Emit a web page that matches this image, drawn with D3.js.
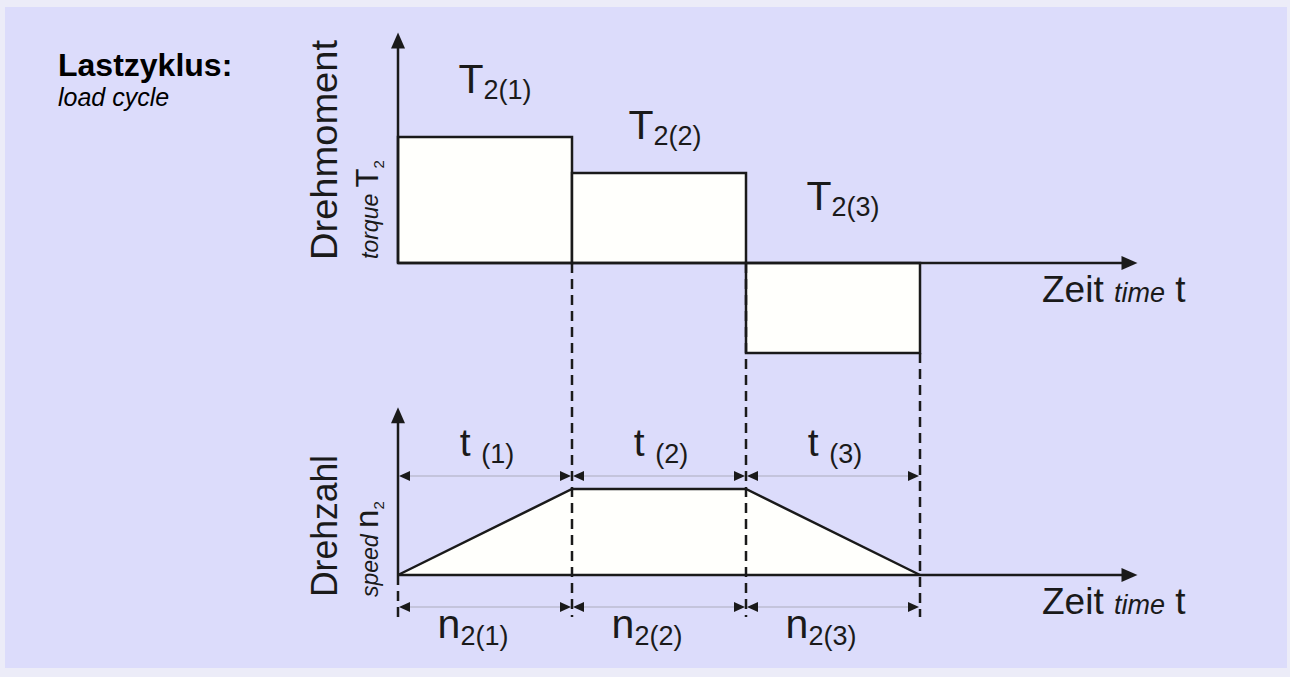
<!DOCTYPE html>
<html>
<head>
<meta charset="utf-8">
<script src="https://cdn.jsdelivr.net/npm/d3@7"></script>
<style>
    body { margin: 0; background: #ececf8; }
    svg { display: block; }
</style>
</head>
<body>
<div id="chart"></div>
<script>
// Load cycle data: three time sections
const sections = ["(1)", "(2)", "(3)"];
const timeEdges = [0, 1, 2, 3];          // section borders on the time axis
const torque = [1.4, 1.0, -1.0];         // T2 per section
const speedTimes = [0, 1, 2, 3];         // speed profile corner points
const speedValues = [0, 1, 1, 0];

const width = 1290, height = 677;
const ink = "#1a1a1a";
const font = "'Liberation Sans', Arial, sans-serif";

var svg = d3.select("#chart").append("svg")
    .attr("width", width)
    .attr("height", height);

// Background with a light frame
svg.append("rect")
    .attr("width", width).attr("height", height)
    .attr("fill", "#ececf8");
svg.append("rect")
    .attr("x", 5).attr("y", 7)
    .attr("width", 1282).attr("height", 661)
    .attr("fill", "#dcdcfb");

// Scales
var x = d3.scaleLinear().domain([0, 3]).range([398, 920]);
var yT = d3.scaleLinear().domain([-1, 1.4]).range([353, 137]);
var yN = d3.scaleLinear().domain([0, 1]).range([575, 489]);

const xAxisEnd = 4.25;     // where time arrows end
const yTAxisEnd = 2.56;    // torque arrow top
const yNAxisEnd = 1.95;    // speed arrow top
const dimT = 476, dimN = 607;   // y of dimension lines

/**
 * Triangle path with its tip at (tx, ty)
 */
function arrowHead(tx, ty, dir, len, half) {
    var p = d3.path();
    if (dir == "up") {
        p.moveTo(tx, ty); p.lineTo(tx - half, ty + len); p.lineTo(tx + half, ty + len);
    } else if (dir == "right") {
        p.moveTo(tx, ty); p.lineTo(tx - len, ty - half); p.lineTo(tx - len, ty + half);
    } else {
        p.moveTo(tx, ty); p.lineTo(tx + len, ty - half); p.lineTo(tx + len, ty + half);
    }
    p.closePath();
    return p.toString();
}

// ---- Torque bars ----
var bars = svg.append("g");
bars.selectAll("rect")
    .data(torque)
    .enter().append("rect")
    .attr("x", (d, i) => x(timeEdges[i]))
    .attr("width", (d, i) => x(timeEdges[i + 1]) - x(timeEdges[i]))
    .attr("y", d => Math.min(yT(d), yT(0)))
    .attr("height", d => Math.abs(yT(d) - yT(0)))
    .attr("fill", "#fffffc")
    .attr("stroke", ink)
    .attr("stroke-width", 2.5);

// ---- Speed profile ----
var area = d3.area()
    .x((d, i) => x(speedTimes[i]))
    .y0(yN(0))
    .y1(d => yN(d));
svg.append("path")
    .datum(speedValues)
    .attr("d", area)
    .attr("fill", "#fffffc");
svg.append("path")
    .datum(speedValues)
    .attr("d", d3.line().x((d, i) => x(speedTimes[i])).y(d => yN(d)))
    .attr("fill", "none")
    .attr("stroke", ink)
    .attr("stroke-width", 2.5);

// ---- Dashed section borders ----
var dashes = [
    { t: 0, y1: yN(0), y2: dimN + 10 },
    { t: 1, y1: yT(0), y2: dimN + 10 },
    { t: 2, y1: yT(0), y2: dimN + 10 },
    { t: 3, y1: yT(-1), y2: dimN + 10 }
];
svg.append("g").selectAll("line")
    .data(dashes)
    .enter().append("line")
    .attr("x1", d => x(d.t)).attr("x2", d => x(d.t))
    .attr("y1", d => d.y1).attr("y2", d => d.y2)
    .attr("stroke", ink)
    .attr("stroke-width", 2.5)
    .attr("stroke-dasharray", "10,6");

// ---- Axes ----
var axes = svg.append("g");
axes.append("line")
    .attr("x1", x(0)).attr("x2", x(0))
    .attr("y1", yT(0)).attr("y2", yT(yTAxisEnd) + 10)
    .attr("stroke", ink).attr("stroke-width", 2.5);
axes.append("path").attr("d", arrowHead(x(0), yT(yTAxisEnd), "up", 16, 7)).attr("fill", ink);
axes.append("line")
    .attr("x1", x(0)).attr("x2", x(xAxisEnd) - 10)
    .attr("y1", yT(0)).attr("y2", yT(0))
    .attr("stroke", ink).attr("stroke-width", 2.5);
axes.append("path").attr("d", arrowHead(x(xAxisEnd), yT(0), "right", 16, 7)).attr("fill", ink);

axes.append("line")
    .attr("x1", x(0)).attr("x2", x(0))
    .attr("y1", yN(0)).attr("y2", yN(yNAxisEnd) + 10)
    .attr("stroke", ink).attr("stroke-width", 2.5);
axes.append("path").attr("d", arrowHead(x(0), yN(yNAxisEnd), "up", 16, 7)).attr("fill", ink);
axes.append("line")
    .attr("x1", x(0)).attr("x2", x(xAxisEnd) - 10)
    .attr("y1", yN(0)).attr("y2", yN(0))
    .attr("stroke", ink).attr("stroke-width", 2.5);
axes.append("path").attr("d", arrowHead(x(xAxisEnd), yN(0), "right", 16, 7)).attr("fill", ink);

// ---- Dimension lines with arrows ----
[dimT, dimN].forEach(function(yy) {
    var g = svg.append("g");
    g.selectAll("line")
        .data(sections)
        .enter().append("line")
        .attr("x1", (d, i) => x(timeEdges[i]) + 4)
        .attr("x2", (d, i) => x(timeEdges[i + 1]) - 4)
        .attr("y1", yy).attr("y2", yy)
        .attr("stroke", "#c4c4dc")
        .attr("stroke-width", 2);
    sections.forEach(function(s, i) {
        g.append("path").attr("d", arrowHead(x(timeEdges[i]) + 1, yy, "left", 11, 5)).attr("fill", ink);
        g.append("path").attr("d", arrowHead(x(timeEdges[i + 1]) - 1, yy, "right", 11, 5)).attr("fill", ink);
    });
});

// ---- Labels ----
var labels = svg.append("g")
    .attr("font-family", font)
    .attr("fill", ink);

// Title
labels.append("text")
    .attr("x", 58).attr("y", 76)
    .attr("font-size", 32).attr("font-weight", "bold")
    .attr("fill", "#000")
    .text("Lastzyklus:");
labels.append("text")
    .attr("x", 58).attr("y", 106)
    .attr("font-size", 25).attr("font-style", "italic")
    .attr("fill", "#000")
    .text("load cycle");

// T2(i) labels above/below bars
var tLabelY = [93, 139, 210];
var tLabelDx = [10, 6, 10];
sections.forEach(function(s, i) {
    var t = labels.append("text")
        .attr("x", (x(timeEdges[i]) + x(timeEdges[i + 1])) / 2 + tLabelDx[i])
        .attr("y", tLabelY[i])
        .attr("text-anchor", "middle")
        .attr("font-size", 41);
    t.append("tspan").text("T");
    t.append("tspan").attr("font-size", 27).attr("dy", 6).text("2" + s);
});

// t(i) labels above the speed dimension line
sections.forEach(function(s, i) {
    var t = labels.append("text")
        .attr("x", (x(timeEdges[i]) + x(timeEdges[i + 1])) / 2 + 2)
        .attr("y", 456)
        .attr("text-anchor", "middle")
        .attr("font-size", 39);
    t.append("tspan").text("t ");
    t.append("tspan").attr("font-size", 27).attr("dy", 7).text(s);
});

// n2(i) labels below
sections.forEach(function(s, i) {
    var t = labels.append("text")
        .attr("x", (x(timeEdges[i]) + x(timeEdges[i + 1])) / 2 - 12)
        .attr("y", 638)
        .attr("text-anchor", "middle")
        .attr("font-size", 41);
    t.append("tspan").text("n");
    t.append("tspan").attr("font-size", 27).attr("dy", 7).text("2" + s);
});

// Time axis labels
[yT(0), yN(0)].forEach(function(y0) {
    var t = labels.append("text")
        .attr("x", 1042)
        .attr("y", y0 + 39)
        .attr("font-size", 37);
    t.append("tspan").text("Zeit ");
    t.append("tspan").attr("font-size", 27).attr("font-style", "italic").text("time");
    t.append("tspan").text(" t");
});

// Vertical axis labels (rotated)
function axisLabel(main, mainLen, yStart, sub, symbol, subStart) {
    labels.append("text")
        .attr("transform", "translate(337," + ((yStart[0] + yStart[1]) / 2) + ") rotate(-90)")
        .attr("text-anchor", "middle")
        .attr("font-size", 36)
        .attr("textLength", mainLen)
        .attr("lengthAdjust", "spacingAndGlyphs")
        .text(main);
    var t = labels.append("text")
        .attr("transform", "translate(378," + subStart + ") rotate(-90)")
        .attr("font-size", 23);
    t.append("tspan").attr("font-style", "italic").text(sub + " ");
    t.append("tspan").attr("font-size", symbol == "T" ? 31 : 33).text(symbol);
    t.append("tspan").attr("font-size", 15).attr("dy", 6).text("2");
}
axisLabel("Drehmoment", 220, [40, 260], "torque", "T", 259);
axisLabel("Drehzahl", 142, [455, 597], "speed", "n", 597);
</script>
</body>
</html>
